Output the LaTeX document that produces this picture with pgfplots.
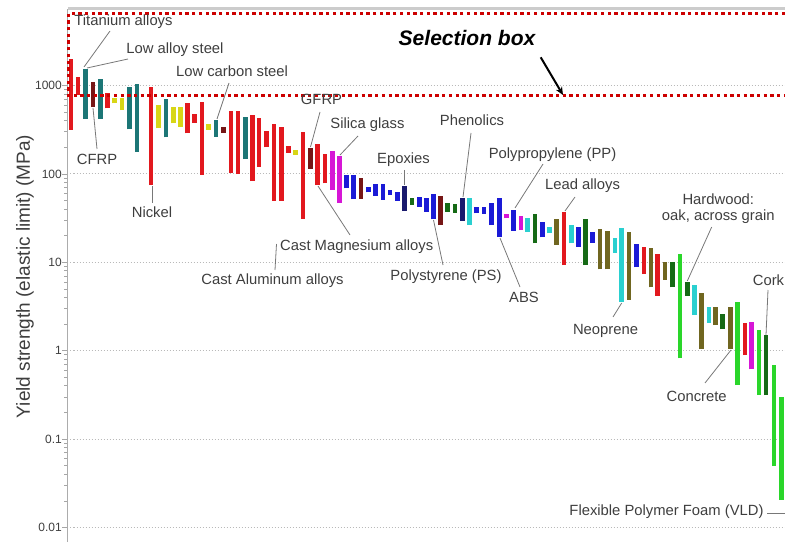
\documentclass[border=0pt]{standalone}
\usepackage{pgfplots}
\pgfplotsset{compat=1.18}
\usepackage{fontspec}
\setmainfont{Liberation Sans}
\usetikzlibrary{arrows.meta}

\definecolor{cRed}{RGB}{226,24,30}
\definecolor{cTeal}{RGB}{28,118,118}
\definecolor{cMaroon}{RGB}{118,22,22}
\definecolor{cYellow}{RGB}{216,214,22}
\definecolor{cMagenta}{RGB}{214,22,214}
\definecolor{cBlue}{RGB}{26,26,214}
\definecolor{cNavy}{RGB}{26,26,110}
\definecolor{cDkGreen}{RGB}{22,106,22}
\definecolor{cCyan}{RGB}{42,208,208}
\definecolor{cOlive}{RGB}{112,102,32}
\definecolor{cBrGreen}{RGB}{42,214,42}
\definecolor{selRed}{RGB}{204,0,0}
\definecolor{txtGray}{RGB}{62,62,62}
\definecolor{leadGray}{RGB}{120,120,120}

\pgfplotsset{
  rangebar/.style={line width=4.6pt, line cap=butt, mark=none, forget plot},
}

\begin{document}
\begin{tikzpicture}
\begin{axis}[
  at={(67.5pt,0pt)}, anchor=south west,
  scale only axis, width=717.5pt, height=533.5pt,
  xmin=67.5, xmax=785,
  ymode=log, ymin=0.00686, ymax=7430,
  axis x line=none, axis y line*=left,
  y axis line style={draw=gray!65, line width=1.2pt},
  ytick={0.01,0.1,1,10,100,1000},
  yticklabels={0.01,0.1,1,10,100,1000},
  tick align=outside,
  major tick length=5pt, minor tick length=3pt,
  every tick/.style={draw=gray!70, line width=0.8pt},
  ymajorgrids,
  major grid style={draw=gray!55, line width=0.9pt, dash pattern=on 1pt off 2pt},
  yticklabel style={font=\fontsize{12}{12}\selectfont, text=txtGray, anchor=east, inner sep=0pt, xshift=-0.5pt},
  clip=false,
  unbounded coords=jump,
]
% red
\addplot[rangebar, cRed] coordinates {
 (71,314) (71,1978) (71,nan)
 (78,781) (78,1238) (78,nan)
 (107.3,552) (107.3,829) (107.3,nan)
 (151,74.9) (151,954) (151,nan)
 (187.7,288) (187.7,629) (187.7,nan)
 (194.7,380) (194.7,476) (194.7,nan)
 (202,97.2) (202,646) (202,nan)
 (231,103) (231,519) (231,nan)
 (238,99.7) (238,519) (238,nan)
 (252.3,83.1) (252.3,464) (252.3,nan)
 (259,121) (259,426) (259,nan)
 (266.7,200) (266.7,306) (266.7,nan)
 (274,49.8) (274,364) (274,nan)
 (281.7,49.8) (281.7,337) (281.7,nan)
 (288.3,174) (288.3,208) (288.3,nan)
 (303,30.9) (303,296) (303,nan)
 (317.7,74.9) (317.7,216) (317.7,nan)
 (325,78.3) (325,168) (325,nan)
 (564,9.32) (564,37.4) (564,nan)
 (644,7.37) (644,15.0) (644,nan)
 (657.7,4.16) (657.7,12.4) (657.7,nan)
 (745,0.894) (745,2.04)
};
% teal
\addplot[rangebar, cTeal] coordinates {
 (85.3,418) (85.3,1525) (85.3,nan)
 (100.7,418) (100.7,1184) (100.7,nan)
 (129.3,320) (129.3,954) (129.3,nan)
 (137,178) (137,1032) (137,nan)
 (166,259) (166,698) (166,nan)
 (216,264) (216,407) (216,nan)
 (245.7,147) (245.7,444)
};
% maroon
\addplot[rangebar, cMaroon] coordinates {
 (93,576) (93,1087) (93,nan)
 (223.7,292) (223.7,337) (223.7,nan)
 (310.3,114) (310.3,198) (310.3,nan)
 (361,52.0) (361,90.6) (361,nan)
 (440.7,26.4) (440.7,56.7)
};
% yellow
\addplot[rangebar, cYellow] coordinates {
 (114.7,629) (114.7,717) (114.7,nan)
 (122,528) (122,717) (122,nan)
 (158.7,328) (158.7,602) (158.7,nan)
 (173.7,374) (173.7,576) (173.7,nan)
 (180.3,342) (180.3,567) (180.3,nan)
 (208.7,314) (208.7,367) (208.7,nan)
 (295.7,164) (295.7,186)
};
% magenta
\addplot[rangebar, cMagenta] coordinates {
 (332.3,65.8) (332.3,183) (332.3,nan)
 (339.3,47.2) (339.3,161) (339.3,nan)
 (506.7,31.5) (506.7,35.2) (506.7,nan)
 (521,23.2) (521,33.4) (521,nan)
 (751.7,0.616) (751.7,2.13)
};
% blue
\addplot[rangebar, cBlue] coordinates {
 (346.7,68.8) (346.7,97.2) (346.7,nan)
 (353.7,52.0) (353.7,97.2) (353.7,nan)
 (368.3,61.9) (368.3,71.6) (368.3,nan)
 (375.7,56.7) (375.7,76.3) (375.7,nan)
 (383,50.7) (383,76.3) (383,nan)
 (390,57.7) (390,65.8) (390,nan)
 (397.3,49.4) (397.3,61.9) (397.3,nan)
 (419.3,42.6) (419.3,55.2) (419.3,nan)
 (426.7,37.4) (426.7,53.0) (426.7,nan)
 (433.3,30.6) (433.3,58.8) (433.3,nan)
 (476.7,35.8) (476.7,41.9) (476.7,nan)
 (484,35.2) (484,42.6) (484,nan)
 (491.7,26.4) (491.7,46.5) (491.7,nan)
 (499.3,19.5) (499.3,53.0) (499.3,nan)
 (513.3,22.8) (513.3,39.0) (513.3,nan)
 (542.3,19.2) (542.3,28.8) (542.3,nan)
 (578.3,15.0) (578.3,25.3) (578.3,nan)
 (592.7,16.7) (592.7,22.2) (592.7,nan)
 (636.7,8.78) (636.7,16.1)
};
% navy
\addplot[rangebar, cNavy] coordinates {
 (404.3,38.0) (404.3,73.5) (404.3,nan)
 (462.3,29.6) (462.3,53.0)
};
% dark green
\addplot[rangebar, cDkGreen] coordinates {
 (412,44.5) (412,53.4) (412,nan)
 (447.7,37.4) (447.7,46.5) (447.7,nan)
 (455,36.4) (455,45.6) (455,nan)
 (535,16.4) (535,34.9) (535,nan)
 (585.7,9.32) (585.7,30.6) (585.7,nan)
 (672.3,5.21) (672.3,10.2) (672.3,nan)
 (687.3,4.16) (687.3,6.03) (687.3,nan)
 (722.7,1.75) (722.7,2.60) (722.7,nan)
 (766,0.315) (766,1.51)
};
% cyan
\addplot[rangebar, cCyan] coordinates {
 (469.3,26.4) (469.3,53.8) (469.3,nan)
 (527.7,22.2) (527.7,31.5) (527.7,nan)
 (549.3,21.3) (549.3,25.3) (549.3,nan)
 (571.7,16.4) (571.7,26.4) (571.7,nan)
 (615,12.8) (615,18.7) (615,nan)
 (621.7,3.58) (621.7,24.2) (621.7,nan)
 (694.3,2.53) (694.3,5.54) (694.3,nan)
 (709,2.07) (709,3.10)
};
% olive
\addplot[rangebar, cOlive] coordinates {
 (556.7,15.7) (556.7,30.6) (556.7,nan)
 (600,8.33) (600,23.6) (600,nan)
 (607.5,8.33) (607.5,22.8) (607.5,nan)
 (629,3.75) (629,22.2) (629,nan)
 (651,5.21) (651,14.4) (651,nan)
 (665,6.31) (665,10.2) (665,nan)
 (701.7,1.04) (701.7,4.53) (701.7,nan)
 (715.7,1.95) (715.7,3.10) (715.7,nan)
 (730.7,1.04) (730.7,3.10)
};
% bright green
\addplot[rangebar, cBrGreen] coordinates {
 (680,0.820) (680,12.4) (680,nan)
 (737.7,0.409) (737.7,3.58) (737.7,nan)
 (759,0.315) (759,1.71) (759,nan)
 (774,0.0496) (774,0.689) (774,nan)
 (781.7,0.0205) (781.7,0.302)
};
% dotted selection box (open on the right)
\draw[selRed, line width=3.3pt, dash pattern=on 3.3pt off 3.4pt]
  (axis cs:785,6557) -- (axis cs:68.5,6557) -- (axis cs:68.5,766.8) -- (axis cs:785,766.8);
\end{axis}

\begin{scope}[x=1pt, y=-1pt, shift={(0pt,542pt)}]
  % top frame line
  \draw[gray!40, line width=2.5pt] (67.5,8.5) -- (785,8.5);
  % axis title
  \node[rotate=90, font=\fontsize{19}{19}\selectfont, text=txtGray] at (25,276.5)
    {Yield strength (elastic limit) (MPa)};
  % leader lines
  \begin{scope}[leadGray, line width=0.8pt]
    \draw (110,31) -- (84,67);
    \draw (128,59) -- (87,68);
    \draw (93,108) -- (97,149);
    \draw (152,186) -- (152,203);
    \draw (229,83) -- (217,119);
    \draw (320,112) -- (310.5,147);
    \draw (358,136) -- (340,155);
    \draw (404.3,170) -- (404.3,185);
    \draw (471,133) -- (463,197);
    \draw (543,164) -- (515,208);
    \draw (575,197) -- (565,211);
    \draw (350,235) -- (318,186);
    \draw (275,270) -- (276.5,244);
    \draw (443,265) -- (433.5,220);
    \draw (520,287) -- (500,238);
    \draw (613,317) -- (621.7,303);
    \draw (711.7,227) -- (687.3,281);
    \draw (768,290) -- (766,335);
    \draw (705,383) -- (731,350);
    \draw (767,513) -- (785,513);
  \end{scope}
  % material names
  \begin{scope}[every node/.style={font=\fontsize{14.8}{16.3}\selectfont, text=txtGray, inner sep=0pt, anchor=mid}]
    \node at (123.5,23) {Titanium alloys};
    \node at (175,51) {Low alloy steel};
    \node at (97,162) {CFRP};
    \node at (152,215) {Nickel};
    \node at (232,74) {Low carbon steel};
    \node at (321.5,101.5) {GFRP};
    \node at (367.5,126) {Silica glass};
    \node at (403.5,161) {Epoxies};
    \node at (472,122.5) {Phenolics};
    \node at (552.5,156) {Polypropylene (PP)};
    \node at (582.5,187) {Lead alloys};
    \node at (356.7,248) {Cast Magnesium alloys};
    \node at (272.5,282) {Cast Aluminum alloys};
    \node at (446,278) {Polystyrene (PS)};
    \node at (524,300) {ABS};
    \node at (605.5,332) {Neoprene};
    \node at (718.3,201.7) {Hardwood:};
    \node at (718.3,218.3) {oak, across grain};
    \node at (768.5,283) {Cork};
    \node at (696.7,399) {Concrete};
    \node at (666.5,513) {Flexible Polymer Foam (VLD)};
  \end{scope}
  % selection box caption and arrow
  \node[font=\fontsize{21}{21}\selectfont\bfseries\itshape, text=black, inner sep=0pt, anchor=mid] at (467,43) {Selection box};
  \draw[black, line width=2pt, -{Stealth[length=8pt, width=7pt]}] (540.7,57.3) -- (563,95);
\end{scope}
% the page is exactly the chart area
\pgfresetboundingbox
\path[use as bounding box] (0pt,0pt) rectangle (785pt,542pt);
\end{tikzpicture}
\end{document}
